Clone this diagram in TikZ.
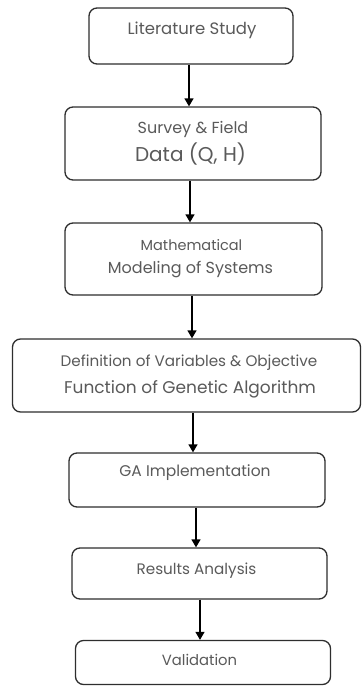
\documentclass[tikz,border=0pt]{standalone}
\usepackage{fontspec}
\setmainfont{Poppins}
\usetikzlibrary{arrows.meta}
\definecolor{edge}{HTML}{2E2E2E}
\definecolor{ink}{HTML}{5A5A5A}
\tikzset{
  stepbox/.style={draw=edge, line width=1.3pt, rounded corners=8pt, fill=white, inner sep=0pt},
  txt/.style={text=ink, inner sep=0pt, anchor=mid},
  flow/.style={draw=black, line width=1.4pt, -{Triangle[length=8pt,width=9pt]}}
}
\newcommand\fsz[1]{\fontsize{#1}{#1}\selectfont}
\begin{document}
\begin{tikzpicture}[x=1pt,y=-1pt]
\useasboundingbox (0,0) rectangle (362,686);
% boxes
\node[stepbox, minimum width=204pt, minimum height=56pt] (b1) at (191,36) {};
\node[stepbox, minimum width=256pt, minimum height=73pt] (b2) at (193,143.5) {};
\node[stepbox, minimum width=257pt, minimum height=72pt] (b3) at (193.5,259) {};
\node[stepbox, minimum width=348pt, minimum height=73pt] (b4) at (186.5,375.5) {};
\node[stepbox, minimum width=256pt, minimum height=54pt] (b5) at (197,480) {};
\node[stepbox, minimum width=255pt, minimum height=51pt] (b6) at (199.5,573.5) {};
\node[stepbox, minimum width=255pt, minimum height=44pt] (b7) at (203,662.5) {};
% labels
\node[txt, font=\fsz{16.5}] (t1) at (192,32) {Literature Study};
\node[txt, font=\fsz{16}] (t2a) at (193,131) {Survey \& Field};
\node[txt, font=\fsz{20}] (t2b) at (190.5,159) {Data (Q, H)};
\node[txt, font=\fsz{14.5}] (t3a) at (191.5,248) {Mathematical};
\node[txt, font=\fsz{16}] (t3b) at (190.5,271) {Modeling of Systems};
\node[txt, font=\fsz{15.2}] (t4a) at (189,364) {Definition of Variables \& Objective};
\node[txt, font=\fsz{17}] (t4b) at (190,391) {Function of Genetic Algorithm};
\node[txt, font=\fsz{15.5}] (t5) at (195,474) {GA Implementation};
\node[txt, font=\fsz{15.2}] (t6) at (196.5,572) {Results Analysis};
\node[txt, font=\fsz{14.8}] (t7) at (199.5,663) {Validation};
% connector columns
\coordinate (c1) at (189,0);
\coordinate (c2) at (190,0);
\coordinate (c3) at (192,0);
\coordinate (c4) at (193,0);
\coordinate (c5) at (196,0);
\coordinate (c6) at (200,0);
\draw[flow] (b1.south -| c1) -- (b2.north -| c1);
\draw[flow] (b2.south -| c2) -- (b3.north -| c2);
\draw[flow] (b3.south -| c3) -- (b4.north -| c3);
\draw[flow] (b4.south -| c4) -- (b5.north -| c4);
\draw[flow] (b5.south -| c5) -- (b6.north -| c5);
\draw[flow] (b6.south -| c6) -- (b7.north -| c6);
\end{tikzpicture}
\end{document}
